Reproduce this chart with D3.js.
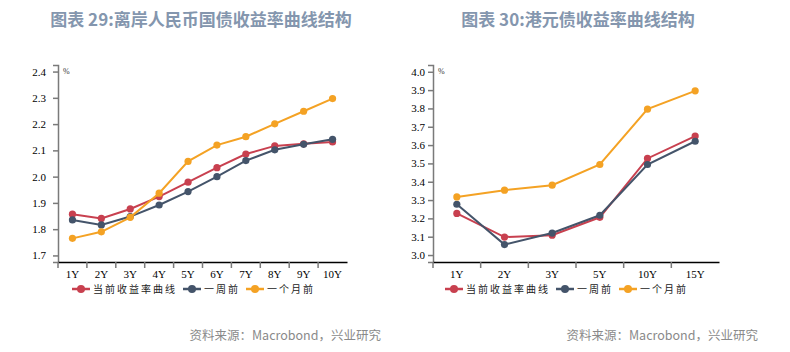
<!DOCTYPE html>
<html>
<head>
<meta charset="utf-8">
<script src="https://cdn.jsdelivr.net/npm/d3@7"></script>
<style>
  body { margin: 0; background: #fff; }
  svg { display: block; }
</style>
</head>
<body>
<svg id="chart" width="790" height="352"></svg>
<script>
// Chart 29: offshore RMB sovereign yield curve
const cnyTenors = ['1Y', '2Y', '3Y', '4Y', '5Y', '6Y', '7Y', '8Y', '9Y', '10Y'];
const cnyNow = [1.857, 1.841, 1.877, 1.924, 1.979, 2.034, 2.086, 2.117, 2.125, 2.132];
const cnyWeek = [1.835, 1.816, 1.848, 1.892, 1.943, 2.000, 2.061, 2.102, 2.123, 2.142];
const cnyMonth = [1.765, 1.790, 1.845, 1.937, 2.058, 2.120, 2.152, 2.201, 2.249, 2.297];
const cnyTicks = [1.7, 1.8, 1.9, 2.0, 2.1, 2.2, 2.3, 2.4];

// Chart 30: HKD yield curve
const hkdTenors = ['1Y', '2Y', '3Y', '5Y', '10Y', '15Y'];
const hkdNow = [3.227, 3.098, 3.108, 3.206, 3.527, 3.649];
const hkdWeek = [3.277, 3.057, 3.120, 3.217, 3.494, 3.621];
const hkdMonth = [3.317, 3.354, 3.381, 3.494, 3.796, 3.896];
const hkdTicks = [3.0, 3.1, 3.2, 3.3, 3.4, 3.5, 3.6, 3.7, 3.8, 3.9, 4.0];

const seriesNames = ['当前收益率曲线', '一周前', '一个月前'];
const seriesColors = ['#c8404f', '#44546a', '#f4a224'];

const svg = d3.select('#chart');

function drawPanel(opts) {
    const g = svg.append('g');

    const x = d3.scaleBand().domain(opts.tenors).range([opts.left, opts.right]);
    const y = d3.scaleLinear().domain(opts.yDomain).range([262, 65]);

    // title
    svg.append('text')
        .attr('x', opts.titleX)
        .attr('y', 25.5)
        .attr('text-anchor', 'middle')
        .attr('font-family', '"Noto Sans CJK SC", "Noto Sans", sans-serif')
        .attr('font-weight', 'bold')
        .attr('font-size', '17px')
        .attr('fill', '#8496ae')
        .text(opts.title);

    // y axis
    const yAxis = g.append('g')
        .attr('transform', `translate(${opts.left},0)`)
        .call(d3.axisLeft(y).tickValues(opts.yTicks).tickSize(5).tickPadding(opts.yPad)
            .tickFormat(d3.format('.1f')));
    yAxis.select('.domain').attr('stroke', '#7a7a7a').attr('stroke-width', 1.5);
    yAxis.selectAll('.tick line').attr('stroke', '#7a7a7a').attr('stroke-width', 1.5);
    yAxis.selectAll('text')
        .attr('font-family', '"Liberation Serif", "Times New Roman", serif')
        .attr('font-size', '11px')
        .attr('fill', '#000');

    g.append('text')
        .attr('x', opts.left + 5)
        .attr('y', 74)
        .attr('font-family', '"Liberation Serif", serif')
        .attr('font-size', '8px')
        .attr('fill', '#333')
        .text('%');

    // x axis
    const xAxis = g.append('g')
        .attr('transform', 'translate(0,262)')
        .call(d3.axisBottom(x).tickSize(0).tickPadding(8));
    xAxis.select('.domain').attr('stroke', '#000').attr('stroke-width', 1.5);
    xAxis.selectAll('text')
        .attr('font-family', '"Liberation Serif", "Times New Roman", serif')
        .attr('font-size', '11px')
        .attr('fill', '#000');
    xAxis.selectAll('.bound')
        .data(opts.tenors)
        .join('line')
        .attr('x1', d => x(d))
        .attr('x2', d => x(d))
        .attr('y1', 0)
        .attr('y2', 6)
        .attr('stroke', '#7a7a7a')
        .attr('stroke-width', 1.5);

    // lines
    const line = d3.line()
        .x((d, i) => x(opts.tenors[i]) + x.bandwidth() / 2)
        .y(d => y(d));

    opts.series.forEach((vals, k) => {
        g.append('path')
            .datum(vals)
            .attr('d', line)
            .attr('fill', 'none')
            .attr('stroke', seriesColors[k])
            .attr('stroke-width', 2);
        g.selectAll('.pt' + k)
            .data(vals)
            .join('circle')
            .attr('cx', (d, i) => x(opts.tenors[i]) + x.bandwidth() / 2)
            .attr('cy', d => y(d))
            .attr('r', 3.6)
            .attr('fill', seriesColors[k]);
    });

    // legend
    let lx = opts.legendX;
    const ly = 289;
    seriesNames.forEach((name, k) => {
        g.append('line')
            .attr('x1', lx).attr('x2', lx + 18)
            .attr('y1', ly).attr('y2', ly)
            .attr('stroke', seriesColors[k])
            .attr('stroke-width', 2.5);
        g.append('circle')
            .attr('cx', lx + 9).attr('cy', ly)
            .attr('r', 4)
            .attr('fill', seriesColors[k]);
        const t = g.append('text')
            .attr('x', lx + 21)
            .attr('y', ly + 4)
            .attr('font-family', '"Noto Sans CJK SC", sans-serif')
            .attr('font-size', '10px')
            .attr('letter-spacing', '2px')
            .attr('fill', '#222')
            .text(name);
        lx += 21 + t.node().getComputedTextLength() + 6;
    });

    // source
    svg.append('text')
        .attr('x', opts.sourceX)
        .attr('y', 339.5)
        .attr('text-anchor', 'end')
        .attr('font-family', '"Noto Sans CJK SC", sans-serif')
        .attr('font-size', '12.5px')
        .attr('fill', '#8a8a8a')
        .text('资料来源：Macrobond，兴业研究');
}

drawPanel({
    title: '图表 29:离岸人民币国债收益率曲线结构',
    titleX: 201,
    tenors: cnyTenors,
    series: [cnyNow, cnyWeek, cnyMonth],
    yTicks: cnyTicks,
    yDomain: [1.675, 2.425],
    yPad: 7,
    left: 58,
    right: 347,
    legendX: 72,
    sourceX: 381
});

drawPanel({
    title: '图表 30:港元债收益率曲线结构',
    titleX: 578,
    tenors: hkdTenors,
    series: [hkdNow, hkdWeek, hkdMonth],
    yTicks: hkdTicks,
    yDomain: [2.962, 4.037],
    yPad: 3,
    left: 433,
    right: 719,
    legendX: 445,
    sourceX: 758
});
</script>
</body>
</html>
